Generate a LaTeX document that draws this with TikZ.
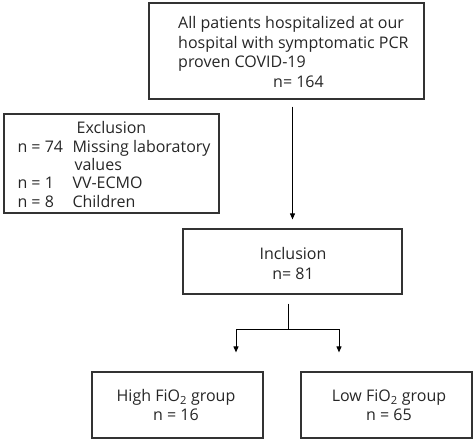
\documentclass[tikz,border=0pt]{standalone}
\usepackage{fontspec}
\setmainfont{Open Sans}
\usetikzlibrary{arrows.meta}
\begin{document}
\begin{tikzpicture}[x=1pt,y=-1pt,
  box/.style={draw=black!80, line width=1.2pt, rectangle, inner sep=0pt},
  txt/.style={inner sep=0pt, text=black!85, font=\fontsize{16}{19.5}\selectfont},
  conn/.style={line width=1pt, draw=black},
  arr/.style={conn, -{Triangle[length=6pt,width=5pt]}}]
\useasboundingbox (0,0) rectangle (474,441);
% boxes
\node[box, minimum width=275pt, minimum height=96pt] (top) at (286.5,51) {};
\node[box, minimum width=215pt, minimum height=99pt] (excl) at (111.5,163.5) {};
\node[box, minimum width=219pt, minimum height=65pt] (incl) at (292.5,261.5) {};
\node[box, minimum width=171pt, minimum height=66pt] (high) at (177.5,405) {};
\node[box, minimum width=171pt, minimum height=66pt] (low) at (386.5,405) {};
% texts
\node[txt, align=left, anchor=west] (toptext) at (178,52)
  {All patients hospitalized at our\\hospital with symptomatic PCR\\proven COVID-19\\\hspace*{95pt}n= 164};
\node[txt, align=center, font=\fontsize{16}{18.3}\selectfont] (excltext) at (111.5,164.5)
  {Exclusion\\
   \makebox[188pt][l]{\makebox[55pt][l]{n = 74}Missing laboratory}\\
   \makebox[188pt][l]{\hspace*{57pt}values}\\
   \makebox[188pt][l]{\makebox[55pt][l]{n = 1}VV-ECMO}\\
   \makebox[188pt][l]{\makebox[55pt][l]{n = 8}Children}};
\node[txt, align=center, font=\fontsize{16}{20}\selectfont] (incltext) at (293,263) {Inclusion\\n= 81};
\node[txt, align=center, font=\fontsize{16}{18.5}\selectfont] (hightext) at (176,405) {High FiO\textsubscript{2} group\\n = 16};
\node[txt, align=center, font=\fontsize{16}{18.5}\selectfont] (lowtext) at (389,405) {Low FiO\textsubscript{2} group\\n = 65};
% connectors
\draw[arr, shorten <=7pt, shorten >=9pt] (top.south -| incl.north) -- (incl.north);
\coordinate (split) at (288,329);
\coordinate (la) at (236,329);
\coordinate (ra) at (339,329);
\draw[conn, shorten <=9pt] (incl.south -| split) -- (split);
\draw[conn] (la) -- (ra);
\draw[arr, shorten >=19pt] (la) -- (la |- high.north);
\draw[arr, shorten >=19pt] (ra) -- (ra |- low.north);
\end{tikzpicture}
\end{document}
